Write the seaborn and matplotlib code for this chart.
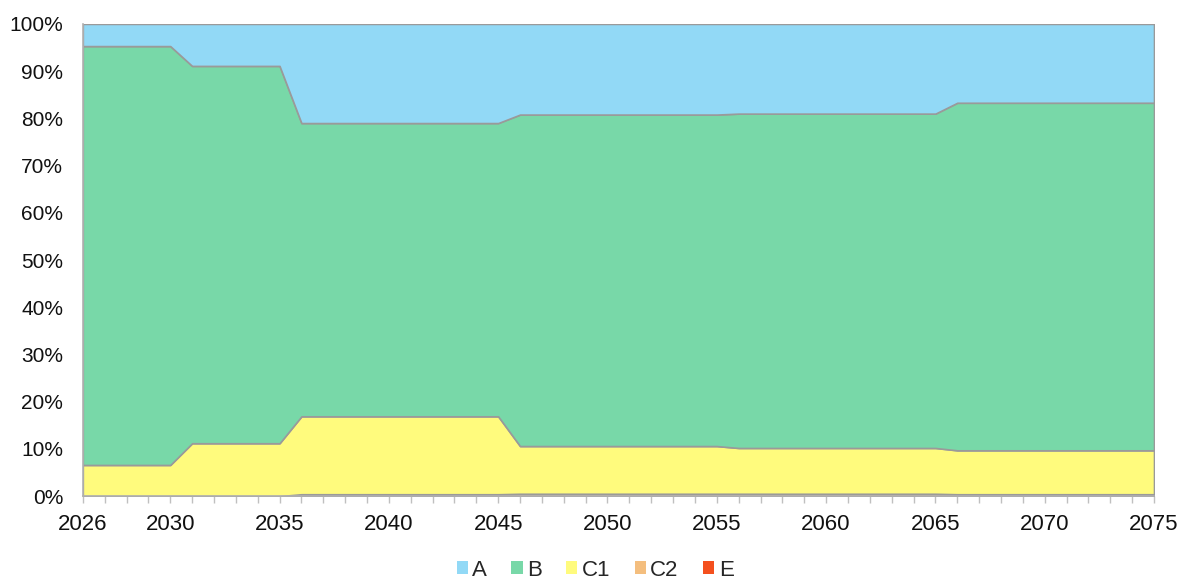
import matplotlib
matplotlib.use("Agg")
import matplotlib.pyplot as plt
from matplotlib.patches import Patch
from matplotlib.ticker import MultipleLocator, FixedLocator, PercentFormatter
import seaborn as sns

years = list(range(2026, 2076))

share_a = [4.7, 4.7, 4.7, 4.7, 4.7,
           8.9, 8.9, 8.9, 8.9, 8.9,
           21.0, 21.0, 21.0, 21.0, 21.0, 21.0, 21.0, 21.0, 21.0, 21.0,
           19.2, 19.2, 19.2, 19.2, 19.2, 19.2, 19.2, 19.2, 19.2, 19.2,
           19.0, 19.0, 19.0, 19.0, 19.0, 19.0, 19.0, 19.0, 19.0, 19.0,
           16.7, 16.7, 16.7, 16.7, 16.7, 16.7, 16.7, 16.7, 16.7, 16.7]
share_b = [88.7, 88.7, 88.7, 88.7, 88.7,
           79.9, 79.9, 79.9, 79.9, 79.9,
           62.1, 62.1, 62.1, 62.1, 62.1, 62.1, 62.1, 62.1, 62.1, 62.1,
           70.2, 70.2, 70.2, 70.2, 70.2, 70.2, 70.2, 70.2, 70.2, 70.2,
           70.8, 70.8, 70.8, 70.8, 70.8, 70.8, 70.8, 70.8, 70.8, 70.8,
           73.6, 73.6, 73.6, 73.6, 73.6, 73.6, 73.6, 73.6, 73.6, 73.6]
share_c1 = [6.6, 6.6, 6.6, 6.6, 6.6,
            11.2, 11.2, 11.2, 11.2, 11.2,
            16.5, 16.5, 16.5, 16.5, 16.5, 16.5, 16.5, 16.5, 16.5, 16.5,
            10.1, 10.1, 10.1, 10.1, 10.1, 10.1, 10.1, 10.1, 10.1, 10.1,
            9.7, 9.7, 9.7, 9.7, 9.7, 9.7, 9.7, 9.7, 9.7, 9.7,
            9.3, 9.3, 9.3, 9.3, 9.3, 9.3, 9.3, 9.3, 9.3, 9.3]
share_c2 = [0.0, 0.0, 0.0, 0.0, 0.0,
            0.0, 0.0, 0.0, 0.0, 0.0,
            0.4, 0.4, 0.4, 0.4, 0.4, 0.4, 0.4, 0.4, 0.4, 0.4,
            0.5, 0.5, 0.5, 0.5, 0.5, 0.5, 0.5, 0.5, 0.5, 0.5,
            0.5, 0.5, 0.5, 0.5, 0.5, 0.5, 0.5, 0.5, 0.5, 0.5,
            0.4, 0.4, 0.4, 0.4, 0.4, 0.4, 0.4, 0.4, 0.4, 0.4]
share_e = [0.0] * 50

series_names = ["A", "B", "C1", "C2", "E"]
series_colors = ["#92D9F6", "#78D8A8", "#FFFB7D", "#F4BE7E", "#F4501E"]
year_labels = [2026, 2030, 2035, 2040, 2045, 2050, 2055, 2060, 2065, 2070, 2075]

sns.set_style("white")
plt.rcParams["font.family"] = ["Liberation Sans", "DejaVu Sans"]

fig = plt.figure(figsize=(11.83, 5.83), dpi=100)
ax = fig.add_axes([0.070, 0.149, 0.9055, 0.810])

# stack from the bottom up: E, C2, C1, B, A
stack_values = [share_e, share_c2, share_c1, share_b, share_a]
stack_colors = series_colors[::-1]
ax.stackplot(years, *stack_values, colors=stack_colors,
             edgecolor="#9a9a9a", linewidth=1.2)

ax.set_xlim(2026, 2075)
ax.set_ylim(0, 100)
ax.yaxis.set_major_locator(MultipleLocator(10))
ax.yaxis.set_major_formatter(PercentFormatter(decimals=0))
ax.xaxis.set_major_locator(FixedLocator(year_labels))
ax.xaxis.set_minor_locator(MultipleLocator(1))

for side in ["top", "right"]:
    ax.spines[side].set_visible(False)
for side in ["left", "bottom"]:
    ax.spines[side].set_color("#b0b0b0")
    ax.spines[side].set_linewidth(1.2)

ax.tick_params(axis="x", which="both", direction="out", length=5,
               color="#c0c0c0", width=1, bottom=True, pad=8,
               labelsize=16, labelcolor="#111111")
ax.tick_params(axis="y", which="both", length=0, pad=14,
               labelsize=15, labelcolor="#111111")

handles = [Patch(facecolor=c, edgecolor="none") for c in series_colors]
fig.legend(handles, series_names, loc="center", bbox_to_anchor=(0.503, 0.022),
           ncol=5, frameon=False, fontsize=16, handlelength=0.5,
           handleheight=0.5, handletextpad=0.2, columnspacing=1.1)

fig.savefig("out.png", dpi=100)
